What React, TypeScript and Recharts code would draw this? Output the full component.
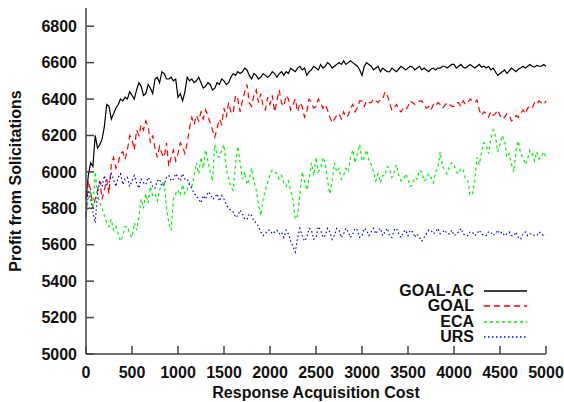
import React from 'react';
import { LineChart, Line, XAxis, YAxis } from 'recharts';

const costs = [
  0, 25, 50, 75, 100, 125, 150, 175, 200, 225, 250, 275, 300, 325, 350, 375, 400, 425, 450, 475,
  500, 525, 550, 575, 600, 625, 650, 675, 700, 725, 750, 775, 800, 825, 850, 875, 900, 925, 950, 975,
  1000, 1025, 1050, 1075, 1100, 1125, 1150, 1175, 1200, 1225, 1250, 1275, 1300, 1325, 1350, 1375, 1400, 1425, 1450, 1475,
  1500, 1525, 1550, 1575, 1600, 1625, 1650, 1675, 1700, 1725, 1750, 1775, 1800, 1825, 1850, 1875, 1900, 1925, 1950, 1975,
  2000, 2025, 2050, 2075, 2100, 2125, 2150, 2175, 2200, 2225, 2250, 2275, 2300, 2325, 2350, 2375, 2400, 2425, 2450, 2475,
  2500, 2525, 2550, 2575, 2600, 2625, 2650, 2675, 2700, 2725, 2750, 2775, 2800, 2825, 2850, 2875, 2900, 2925, 2950, 2975,
  3000, 3025, 3050, 3075, 3100, 3125, 3150, 3175, 3200, 3225, 3250, 3275, 3300, 3325, 3350, 3375, 3400, 3425, 3450, 3475,
  3500, 3525, 3550, 3575, 3600, 3625, 3650, 3675, 3700, 3725, 3750, 3775, 3800, 3825, 3850, 3875, 3900, 3925, 3950, 3975,
  4000, 4025, 4050, 4075, 4100, 4125, 4150, 4175, 4200, 4225, 4250, 4275, 4300, 4325, 4350, 4375, 4400, 4425, 4450, 4475,
  4500, 4525, 4550, 4575, 4600, 4625, 4650, 4675, 4700, 4725, 4750, 4775, 4800, 4825, 4850, 4875, 4900, 4925, 4950, 4975,
  5000,
];

const goalAc = [
  5850, 5980, 6050, 6030, 6200, 6130, 6150, 6180, 6250, 6370, 6360, 6290, 6320, 6350, 6370, 6400, 6390, 6410, 6400, 6440,
  6420, 6400, 6450, 6490, 6470, 6420, 6430, 6480, 6460, 6430, 6510, 6520, 6490, 6550, 6540, 6510, 6510, 6520, 6500, 6510,
  6410, 6430, 6390, 6440, 6520, 6500, 6510, 6490, 6500, 6520, 6490, 6460, 6470, 6490, 6480, 6450, 6460, 6490, 6480, 6510,
  6500, 6480, 6490, 6520, 6540, 6530, 6550, 6540, 6550, 6570, 6560, 6530, 6510, 6540, 6530, 6510, 6520, 6540, 6530, 6520,
  6530, 6550, 6540, 6520, 6540, 6550, 6530, 6550, 6540, 6570, 6560, 6550, 6570, 6580, 6560, 6570, 6530, 6550, 6560, 6580,
  6570, 6560, 6590, 6570, 6580, 6600, 6590, 6570, 6580, 6590, 6600, 6590, 6610, 6590, 6600, 6610, 6600, 6590, 6580, 6560,
  6530, 6580, 6600, 6590, 6580, 6560, 6570, 6580, 6550, 6570, 6560, 6550, 6550, 6570, 6560, 6550, 6565, 6580, 6570, 6560,
  6570, 6580, 6575, 6560, 6570, 6580, 6560, 6570, 6560, 6550, 6565, 6570, 6560, 6570, 6570, 6580, 6580, 6570, 6580, 6590,
  6590, 6570, 6580, 6590, 6575, 6570, 6580, 6590, 6580, 6570, 6580, 6590, 6575, 6580, 6570, 6580, 6560, 6570, 6550, 6530,
  6540, 6550, 6560, 6540, 6555, 6570, 6560, 6550, 6565, 6570, 6580, 6570, 6580, 6590, 6580, 6575, 6585, 6580, 6580, 6590,
  6580,
];

const goal = [
  5750, 5950, 5900, 5800, 5850, 5900, 5950, 5850, 5900, 5960, 5880, 6040, 6080, 6020, 6050, 6100, 6110, 6070, 6120, 6200,
  6180, 6120, 6230, 6200, 6260, 6230, 6280, 6250, 6160, 6200, 6130, 6080, 6140, 6100, 6080, 6160, 6030, 6080, 6120, 6060,
  6100, 6160, 6140, 6100, 6160, 6240, 6300, 6260, 6310, 6280, 6330, 6290, 6340, 6310, 6270, 6230, 6190, 6240, 6290, 6260,
  6350, 6300, 6380, 6330, 6320, 6420, 6400, 6330, 6390, 6440, 6480, 6380, 6360, 6420, 6450, 6380, 6430, 6360, 6340, 6410,
  6370, 6420, 6330, 6390, 6450, 6380, 6360, 6420, 6400, 6340, 6370, 6400, 6330, 6380, 6360, 6300, 6330, 6400, 6380, 6350,
  6360, 6400, 6380, 6350, 6370, 6340, 6300, 6270, 6290, 6310, 6320, 6290, 6330, 6300, 6310, 6350, 6370, 6330, 6350, 6390,
  6390, 6360, 6390, 6380, 6380, 6400, 6390, 6380, 6395, 6400, 6440, 6420, 6380, 6340, 6350, 6370, 6340, 6330, 6350, 6340,
  6360, 6390, 6380, 6370, 6380, 6390, 6390, 6370, 6350, 6360, 6340, 6370, 6360, 6380, 6370, 6350, 6365, 6380, 6370, 6360,
  6360, 6380, 6380, 6360, 6390, 6370, 6380, 6400, 6390, 6380, 6395, 6340, 6310, 6330, 6320, 6300, 6330, 6310, 6320, 6340,
  6310, 6290, 6300, 6320, 6310, 6280, 6290, 6310, 6300, 6320, 6340, 6320, 6350, 6360, 6350, 6380, 6370, 6390, 6380, 6370,
  6390,
];

const eca = [
  5750, 5850, 5900, 5800, 6000, 5880, 5830, 5800, 5760, 5720, 5700, 5740, 5680, 5700, 5660, 5620, 5650, 5700, 5700, 5660,
  5640, 5720, 5680, 5750, 5850, 5800, 5880, 5830, 5920, 5870, 5880, 5840, 5900, 5930, 5950, 5800, 5720, 5680, 5850, 5880,
  5900, 5870, 5930, 5880, 5900, 5940, 5920, 5980, 6050, 5990, 6080, 6020, 6120, 6060, 6000, 5950, 6150, 6090, 6080, 6120,
  6150, 6020, 5960, 5920, 5900, 6040, 6140, 6050, 5960, 6000, 5930, 5960, 6020, 5950, 5900, 5820, 5760, 5850, 5900, 5940,
  5990, 6010, 6000, 5990, 5960, 5980, 5940, 5920, 5950, 5900, 5850, 5740, 5760, 5880, 6000, 5950, 5900, 5960, 6050, 5980,
  6080, 6000, 6020, 6080, 6050, 5950, 5880, 5950, 6050, 6000, 6020, 5960, 5980, 6020, 6000, 6080, 6120, 6050, 6100, 6150,
  6060, 6080, 6120, 6060, 6040, 6000, 5950, 5990, 5940, 5980, 5980, 6030, 6020, 5970, 6000, 6040, 5980, 5950, 5960, 5990,
  5960, 5920, 5930, 5970, 5960, 6010, 6000, 5950, 5960, 5990, 5970, 5940, 6000, 6020, 6110, 6030, 6010, 5990, 6030, 6050,
  6040, 6000, 5990, 6020, 6010, 5960, 5950, 5870, 5880, 5950, 6080, 6040, 6110, 6160, 6150, 6100, 6180, 6230, 6200, 6110,
  6150, 6200, 6170, 6080, 6100, 6040, 6000, 6120, 6170, 6100, 6080, 6040, 6070, 6120, 6100, 6060, 6110, 6070, 6080, 6110,
  6080,
];

const urs = [
  5800, 5900, 5850, 5780, 5720, 5880, 5950, 5920, 5980, 5930, 5940, 5990, 5960, 5920, 5970, 5990, 5930, 5960, 5970, 5920,
  5950, 5980, 5940, 5910, 5960, 5940, 5930, 5970, 5950, 5920, 5910, 5950, 5960, 5920, 5930, 5970, 5980, 5950, 5960, 5990,
  5970, 5950, 5990, 5960, 5960, 5930, 5910, 5880, 5870, 5850, 5830, 5870, 5850, 5890, 5880, 5850, 5860, 5880, 5840, 5870,
  5850, 5820, 5800, 5790, 5780, 5750, 5760, 5790, 5770, 5740, 5740, 5770, 5760, 5730, 5720, 5700, 5670, 5650, 5660, 5680,
  5680, 5660, 5670, 5680, 5660, 5670, 5640, 5680, 5660, 5620, 5590, 5560, 5640, 5690, 5650, 5620, 5640, 5690, 5680, 5630,
  5640, 5700, 5680, 5640, 5650, 5690, 5670, 5630, 5650, 5690, 5680, 5640, 5660, 5690, 5670, 5640, 5660, 5690, 5680, 5640,
  5650, 5690, 5680, 5650, 5670, 5690, 5660, 5680, 5690, 5650, 5670, 5690, 5650, 5640, 5680, 5690, 5660, 5640, 5670, 5680,
  5650, 5680, 5670, 5640, 5660, 5640, 5620, 5640, 5660, 5680, 5680, 5660, 5670, 5690, 5660, 5670, 5680, 5660, 5660, 5680,
  5650, 5660, 5670, 5690, 5660, 5650, 5650, 5670, 5670, 5650, 5660, 5680, 5660, 5650, 5650, 5670, 5670, 5650, 5660, 5680,
  5660, 5670, 5650, 5660, 5670, 5650, 5650, 5670, 5640, 5630, 5660, 5670, 5650, 5660, 5660, 5650, 5650, 5670, 5660, 5650,
  5655,
];

const xTicks = [0, 500, 1000, 1500, 2000, 2500, 3000, 3500, 4000, 4500, 5000];
const yTicks = [5000, 5200, 5400, 5600, 5800, 6000, 6200, 6400, 6600, 6800];

const series = [
  { key: 'goalAc', name: 'GOAL-AC', color: '#000000', dash: undefined },
  { key: 'goal', name: 'GOAL', color: '#ff0000', dash: '6 4' },
  { key: 'eca', name: 'ECA', color: '#00f000', dash: '3 3' },
  { key: 'urs', name: 'URS', color: '#0000ff', dash: '1.5 2.5' },
];

const data = costs.map((c, i) => ({
  cost: c,
  goalAc: goalAc[i],
  goal: goal[i],
  eca: eca[i],
  urs: urs[i],
}));

const font = "'Liberation Sans', Arial, sans-serif";
const frame = '#444444';

// legend drawn as an overlay so it does not eat into the plot area
const KeyBox = () => (
  <div
    style={{
      position: 'absolute',
      left: 335,
      top: 283,
      width: 200,
      fontFamily: font,
      fontWeight: 'bold',
      fontSize: 16,
      color: '#111',
    }}
  >
    {series.map(s => (
      <div key={s.key} style={{ display: 'flex', alignItems: 'center', justifyContent: 'flex-end', height: 15.5 }}>
        <span>{s.name}</span>
        <svg width={52} height={10} style={{ marginLeft: 9 }}>
          <line x1={1} y1={5} x2={44} y2={5} stroke={s.color} strokeWidth={1.3} strokeDasharray={s.dash} />
        </svg>
      </div>
    ))}
  </div>
);

const App: React.FC = () => {
  const tickStyle = { fontFamily: font, fontWeight: 'bold', fontSize: 16, fill: '#111' };
  return (
    <div style={{ position: 'absolute', left: 0, top: 0, width: 564, height: 402, background: '#fff' }}>
      <LineChart width={564} height={402} data={data} margin={{ top: 8, right: 18, bottom: 0, left: 0 }}>
        <XAxis
          dataKey="cost"
          type="number"
          domain={[0, 5000]}
          ticks={xTicks}
          tickSize={-8}
          tickMargin={21}
          tick={tickStyle}
          stroke={frame}
          strokeWidth={1.5}
          height={48}
          label={{ value: 'Response Acquisition Cost', position: 'insideBottom', offset: 4, style: tickStyle }}
        />
        <XAxis
          xAxisId="top"
          orientation="top"
          dataKey="cost"
          type="number"
          domain={[0, 5000]}
          ticks={xTicks}
          tickSize={-8}
          tick={false}
          stroke={frame}
          strokeWidth={1.5}
          height={0}
        />
        <YAxis
          type="number"
          domain={[5000, 6900]}
          ticks={yTicks}
          tickSize={-8}
          tickMargin={17}
          tick={tickStyle}
          stroke={frame}
          strokeWidth={1.5}
          width={86}
          label={{ value: 'Profit from Solicitations', angle: -90, position: 'insideLeft', offset: 15, style: { ...tickStyle, textAnchor: 'middle' } }}
        />
        <YAxis
          yAxisId="right"
          orientation="right"
          type="number"
          domain={[5000, 6900]}
          ticks={yTicks}
          tickSize={-8}
          tick={false}
          stroke={frame}
          strokeWidth={1.5}
          width={0}
        />
        {series.map(s => (
          <Line
            key={s.key}
            dataKey={s.key}
            name={s.name}
            stroke={s.color}
            strokeWidth={1.2}
            strokeDasharray={s.dash}
            dot={false}
            type="linear"
            isAnimationActive={false}
          />
        ))}
      </LineChart>
      <KeyBox />
    </div>
  );
};

export default App;
